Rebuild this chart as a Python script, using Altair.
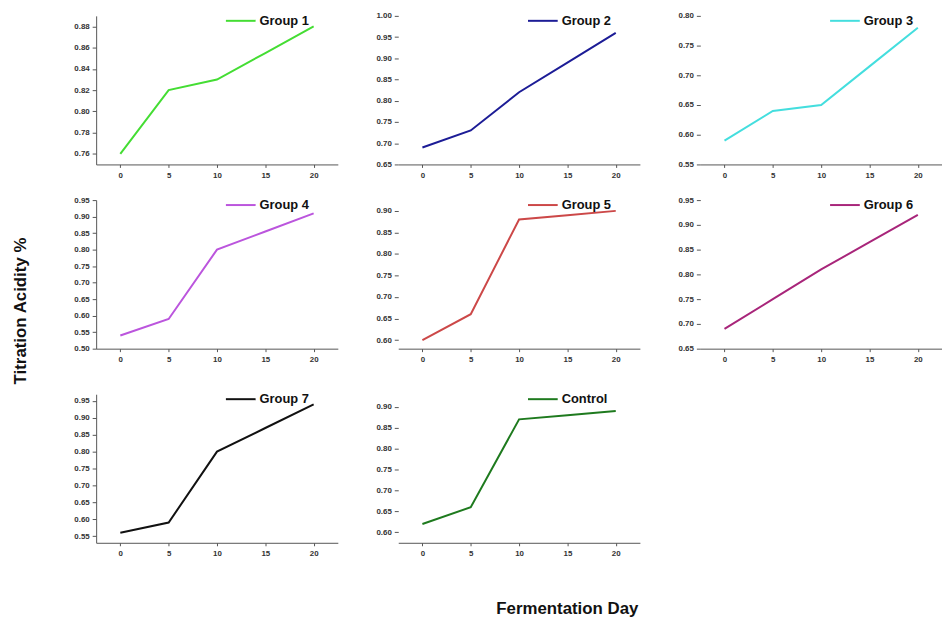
import altair as alt
import pandas as pd

days = [0, 5, 10, 15, 20]
names = ["Group 1", "Group 2", "Group 3", "Group 4", "Group 5", "Group 6", "Group 7", "Control"]
group1 = [0.76, 0.82, 0.83, 0.855, 0.88]
group2 = [0.69, 0.73, 0.82, 0.89, 0.96]
group3 = [0.59, 0.64, 0.65, 0.715, 0.78]
group4 = [0.54, 0.59, 0.80, 0.855, 0.91]
group5 = [0.60, 0.66, 0.88, 0.89, 0.90]
group6 = [0.69, 0.75, 0.81, 0.865, 0.92]
group7 = [0.56, 0.59, 0.80, 0.87, 0.94]
control = [0.62, 0.66, 0.87, 0.88, 0.89]
colors = ["#44dd33", "#1c1c96", "#44dede", "#bb55dd", "#cc4848", "#a8257a", "#111111", "#1e7a1e"]
y_domains = [[0.75, 0.89], [0.65, 1.0], [0.55, 0.80], [0.50, 0.95], [0.58, 0.925],
             [0.65, 0.95], [0.53, 0.97], [0.575, 0.93]]
y_ticks = [
    [0.76, 0.78, 0.80, 0.82, 0.84, 0.86, 0.88],
    [0.65, 0.70, 0.75, 0.80, 0.85, 0.90, 0.95, 1.00],
    [0.55, 0.60, 0.65, 0.70, 0.75, 0.80],
    [0.50, 0.55, 0.60, 0.65, 0.70, 0.75, 0.80, 0.85, 0.90, 0.95],
    [0.60, 0.65, 0.70, 0.75, 0.80, 0.85, 0.90],
    [0.65, 0.70, 0.75, 0.80, 0.85, 0.90, 0.95],
    [0.55, 0.60, 0.65, 0.70, 0.75, 0.80, 0.85, 0.90, 0.95],
    [0.60, 0.65, 0.70, 0.75, 0.80, 0.85, 0.90],
]
y_axis_line = [True, False, False, True, False, False, True, False]
series = [group1, group2, group3, group4, group5, group6, group7, control]

W, H = 244, 150
FONT = "Liberation Sans"


def panel(i):
    df = pd.DataFrame({"day": days, "value": series[i], "name": names[i]})
    return alt.Chart(df).mark_line(strokeWidth=2).encode(
        x=alt.X("day:Q",
                scale=alt.Scale(domain=[-2.5, 22.5], nice=False, zero=False),
                axis=alt.Axis(title=None, values=days, format="d", grid=False,
                              labelFontSize=8, labelFontWeight="bold", labelColor="#333",
                              domainColor="#555", tickColor="#555", tickSize=3,
                              labelFont=FONT, labelPadding=4)),
        y=alt.Y("value:Q",
                scale=alt.Scale(domain=y_domains[i], nice=False, zero=False),
                axis=alt.Axis(title=None, values=y_ticks[i], format=".2f", grid=False,
                              labelFontSize=8, labelFontWeight="bold", labelColor="#333",
                              domain=y_axis_line[i], domainColor="#555", tickColor="#555",
                              tickSize=4, labelFont=FONT, labelPadding=3)),
        color=alt.Color("name:N",
                        scale=alt.Scale(domain=[names[i]], range=[colors[i]]),
                        legend=alt.Legend(title=None, orient="none", legendX=130, legendY=-11,
                                          symbolType="stroke", symbolSize=900,
                                          symbolStrokeWidth=2, labelFontSize=13,
                                          labelFontWeight="bold", labelFont=FONT,
                                          labelColor="#111", labelOffset=3)),
    ).properties(width=W, height=H)


rows = [
    alt.hconcat(panel(0), panel(1), panel(2), spacing=38).resolve_scale(color="independent"),
    alt.hconcat(panel(3), panel(4), panel(5), spacing=38).resolve_scale(color="independent"),
    alt.hconcat(panel(6), panel(7), spacing=38).resolve_scale(color="independent"),
]

top_rows = alt.vconcat(rows[0], rows[1], spacing=10).resolve_scale(color="independent")

inner = alt.vconcat(top_rows, rows[2], spacing=20).resolve_scale(color="independent").properties(
    title=alt.TitleParams("Fermentation Day", orient="bottom", anchor="middle",
                          fontSize=17, fontWeight="bold", font=FONT, offset=44, dx=60,
                          color="#111")
)

chart = alt.hconcat(inner).resolve_scale(color="independent").properties(
    background="white",
    padding={"left": 4, "top": -6, "right": 0, "bottom": 0},
    title=alt.TitleParams("Titration Acidity %", orient="left", anchor="middle",
                          fontSize=17, fontWeight="bold", font=FONT, offset=44, color="#111")
).configure_view(stroke="transparent", strokeWidth=0)

chart.save("out.html", embed_options={"renderer": "svg", "actions": False})
